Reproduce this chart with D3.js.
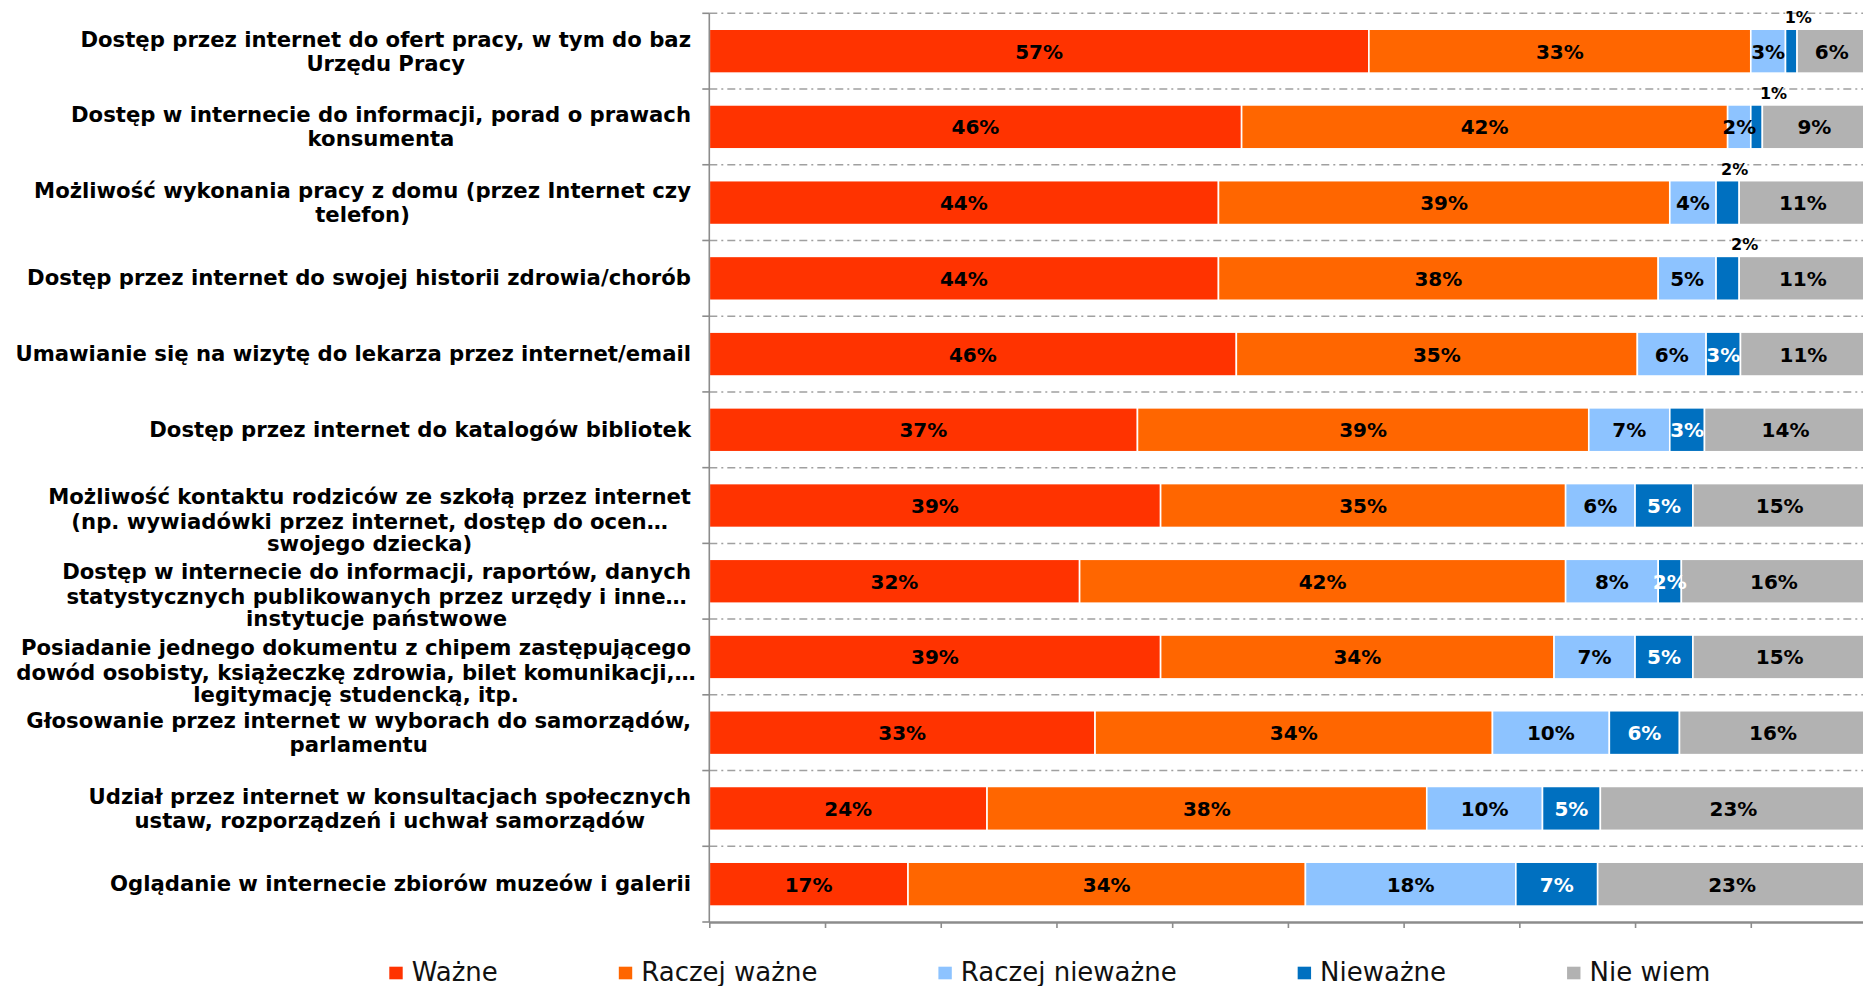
<!DOCTYPE html>
<html>
<head>
<meta charset="utf-8">
<script src="https://cdn.jsdelivr.net/npm/d3@7"></script>
<style>
  html, body { margin: 0; padding: 0; background: #ffffff; }
  svg { display: block; }
</style>
</head>
<body>
<svg id="chart" width="1863" height="986"></svg>
<script>
// ---------- DATA ----------
const categories = [
  "Dostęp przez internet do ofert pracy, w tym do baz\nUrzędu Pracy",
  "Dostęp w internecie do informacji, porad o prawach\nkonsumenta",
  "Możliwość wykonania pracy z domu (przez Internet czy\ntelefon)",
  "Dostęp przez internet do swojej historii zdrowia/chorób",
  "Umawianie się na wizytę do lekarza przez internet/email",
  "Dostęp przez internet do katalogów bibliotek",
  "Możliwość kontaktu rodziców ze szkołą przez internet\n(np. wywiadówki przez internet, dostęp do ocen…\nswojego dziecka)",
  "Dostęp w internecie do informacji, raportów, danych\nstatystycznych publikowanych przez urzędy i inne…\ninstytucje państwowe",
  "Posiadanie jednego dokumentu z chipem zastępującego\ndowód osobisty, książeczkę zdrowia, bilet komunikacji,…\nlegitymację studencką, itp.",
  "Głosowanie przez internet w wyborach do samorządów,\nparlamentu",
  "Udział przez internet w konsultacjach społecznych\nustaw, rozporządzeń i uchwał samorządów",
  "Oglądanie w internecie zbiorów muzeów i galerii"
];
const seriesNames = ["Ważne", "Raczej ważne", "Raczej nieważne", "Nieważne", "Nie wiem"];
const wazne          = [57, 46, 44, 44, 46, 37, 39, 32, 39, 33, 24, 17];
const raczejWazne    = [33, 42, 39, 38, 35, 39, 35, 42, 34, 34, 38, 34];
const raczejNiewazne = [ 3,  2,  4,  5,  6,  7,  6,  8,  7, 10, 10, 18];
const niewazne       = [ 1,  1,  2,  2,  3,  3,  5,  2,  5,  6,  5,  7];
const nieWiem        = [ 6,  9, 11, 11, 11, 14, 15, 16, 15, 16, 23, 23];
const xTicks = [0, 10, 20, 30, 40, 50, 60, 70, 80, 90, 100];
// small labels drawn above the bar (row index of "Nieważne" series)
const aboveRows = [0, 1, 2, 3];

// ---------- STYLE ----------
const colors = ["#FF3300", "#FF6600", "#8DC3FF", "#0070C0", "#B2B2B2"];
const labelColors = ["#000", "#000", "#000", "#fff", "#000"];
const aboveNudge = [7, 17, 7, 17];
const FONT = "'DejaVu Sans', Verdana, sans-serif";

const svg = d3.select("#chart");
const W = 1863, H = 986;

const x0 = 709.3, x1 = 1866.5;
const yTop = 13.3, yBot = 922;

// 100% stacked: domain is share of row total
const x = d3.scaleLinear().domain([0, 1]).range([x0, x1]);
const y = d3.scaleBand().domain(d3.range(categories.length))
  .range([yTop, yBot]).paddingInner(0.42).paddingOuter(0.21);

const seriesArrays = [wazne, raczejWazne, raczejNiewazne, niewazne, nieWiem];
const rows = categories.map((c, i) => {
  const o = { idx: i };
  seriesNames.forEach((s, k) => o[s] = seriesArrays[k][i]);
  return o;
});
const stacked = d3.stack().keys(seriesNames).offset(d3.stackOffsetExpand)(rows);

const step = y.step();

// clip path for plot area
svg.append("defs").append("clipPath").attr("id", "plotclip")
  .append("rect").attr("x", x0).attr("y", 0).attr("width", W - x0).attr("height", H);

// gridlines (dash-dot) at category boundaries
const gridG = svg.append("g");
for (let i = 0; i < categories.length; i++) {
  const gy = yTop + i * step;
  gridG.append("line")
    .attr("x1", x0).attr("x2", W)
    .attr("y1", gy).attr("y2", gy)
    .attr("stroke", "#A0A0A0").attr("stroke-width", 1.5)
    .attr("stroke-dasharray", "8,4,2,4");
}

// bars
const barsG = svg.append("g").attr("clip-path", "url(#plotclip)");
stacked.forEach((layer, k) => {
  barsG.selectAll(null).data(layer).enter().append("rect")
    .attr("x", d => x(d[0]))
    .attr("y", (d, i) => y(i))
    .attr("width", d => Math.max(0, x(d[1]) - x(d[0])))
    .attr("height", y.bandwidth())
    .attr("fill", colors[k])
    .attr("stroke", "#fff").attr("stroke-width", 1.6);
});

// value labels
const labG = svg.append("g").attr("font-family", FONT).attr("font-weight", "bold");
stacked.forEach((layer, k) => {
  layer.forEach((d, i) => {
    const v = seriesArrays[k][i];
    const cx = (x(d[0]) + x(d[1])) / 2;
    const isAbove = (k === 3 && aboveRows.includes(i));
    if (isAbove) {
      labG.append("text")
        .attr("x", cx + aboveNudge[aboveRows.indexOf(i)])
        .attr("y", y(i) - 6)
        .attr("text-anchor", "middle")
        .attr("font-size", 16)
        .attr("fill", "#000")
        .text(v + "%");
    } else {
      labG.append("text")
        .attr("x", cx)
        .attr("y", y(i) + y.bandwidth() / 2 + 7.5)
        .attr("text-anchor", "middle")
        .attr("font-size", 20)
        .attr("fill", labelColors[k])
        .text(v + "%");
    }
  });
});

// left axis line with ticks
const axisColor = "#8C8C8C";
svg.append("line").attr("x1", x0).attr("x2", x0).attr("y1", yTop).attr("y2", yBot)
  .attr("stroke", axisColor).attr("stroke-width", 1.6);
for (let i = 0; i <= categories.length; i++) {
  const gy = yTop + i * step;
  svg.append("line").attr("x1", x0 - 7).attr("x2", x0).attr("y1", gy).attr("y2", gy)
    .attr("stroke", axisColor).attr("stroke-width", 1.6);
}

// bottom axis
const xAxis = d3.axisBottom(x).tickValues(xTicks.map(t => t / 100)).tickSize(6).tickFormat("").tickSizeOuter(0);
const xg = svg.append("g").attr("transform", `translate(0,${yBot})`).call(xAxis);
xg.select(".domain").attr("stroke", axisColor).attr("stroke-width", 2.4);
xg.selectAll(".tick line").attr("stroke", axisColor).attr("stroke-width", 1.6);

// category labels
const catG = svg.append("g").attr("font-family", FONT).attr("font-weight", "bold")
  .attr("font-size", 21.2).attr("fill", "#000");
const rightEdge = 691;
const offsets = { 1: [0], 2: [-11.5, 12.5], 3: [-9, 16, 38] };
categories.forEach((c, i) => {
  const lines = c.split("\n");
  const cy = y(i) + y.bandwidth() / 2;
  const t = catG.append("text").attr("text-anchor", "middle");
  const offs = offsets[lines.length];
  const tspans = lines.map((ln, j) => t.append("tspan").attr("y", cy + offs[j] + 7).text(ln));
  const w1 = tspans[0].node().getComputedTextLength();
  const cx = rightEdge - w1 / 2;
  tspans.forEach(ts => ts.attr("x", cx));
});

// legend
const legG = svg.append("g").attr("font-family", FONT).attr("font-size", 26).attr("fill", "#111");
let lx = 389.3;
seriesNames.forEach((s, k) => {
  legG.append("rect").attr("x", lx).attr("y", 966.7).attr("width", 13.4).attr("height", 12.6)
    .attr("fill", colors[k]);
  const tt = legG.append("text").attr("x", lx + 22.4).attr("y", 981).text(s);
  const tw = tt.node().getComputedTextLength();
  lx = lx + 22.4 + tw + 121;
});
</script>
</body>
</html>
